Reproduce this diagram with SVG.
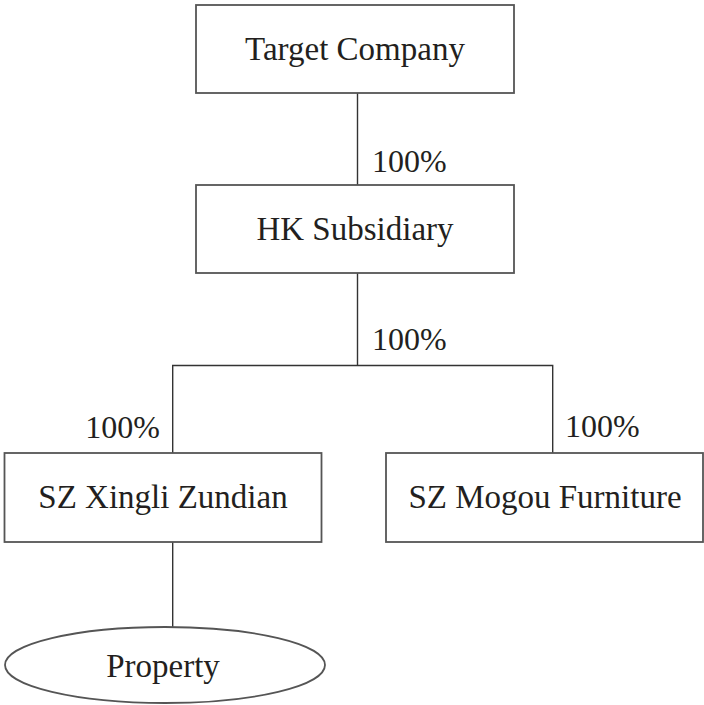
<svg xmlns="http://www.w3.org/2000/svg" width="704" height="705" viewBox="0 0 704 705">
<style>
.box{fill:#fff;stroke:#555;stroke-width:1.8}
.lbl{font-family:"Liberation Serif","Times New Roman",serif;font-size:33px;fill:#231f20;text-anchor:middle}
.pct{font-family:"Liberation Serif","Times New Roman",serif;font-size:32px;fill:#231f20}
.ln{fill:none;stroke:#333;stroke-width:1.4}
</style>
<rect width="704" height="705" fill="#fff"/>
<g id="connectors">
<line class="ln" x1="357.5" y1="93" x2="357.5" y2="185"/>
<polyline class="ln" points="172.7,453 172.7,365.5 552.7,365.5 552.7,453"/>
<line class="ln" x1="357.5" y1="273" x2="357.5" y2="365.5"/>
<line class="ln" x1="172.7" y1="542" x2="172.7" y2="627"/>
<text class="pct" x="372" y="171.5">100%</text>
<text class="pct" x="372" y="350">100%</text>
<text class="pct" x="160" y="437.5" text-anchor="end">100%</text>
<text class="pct" x="565" y="437">100%</text>
</g>
<g id="target">
<rect class="box" x="196" y="5" width="318" height="88"/>
<text class="lbl" x="355" y="60">Target Company</text>
</g>
<g id="hk">
<rect class="box" x="196" y="185" width="318" height="88"/>
<text class="lbl" x="355" y="240">HK Subsidiary</text>
</g>
<g id="xingli">
<rect class="box" x="4.5" y="453" width="317" height="89"/>
<text class="lbl" x="163" y="508">SZ Xingli Zundian</text>
</g>
<g id="mogou">
<rect class="box" x="386" y="453" width="317" height="89"/>
<text class="lbl" x="545" y="508">SZ Mogou Furniture</text>
</g>
<g id="property">
<ellipse class="box" cx="165" cy="665" rx="160" ry="38" stroke="#333" stroke-width="1.4"/>
<text class="lbl" x="163" y="676.5">Property</text>
</g>
</svg>
